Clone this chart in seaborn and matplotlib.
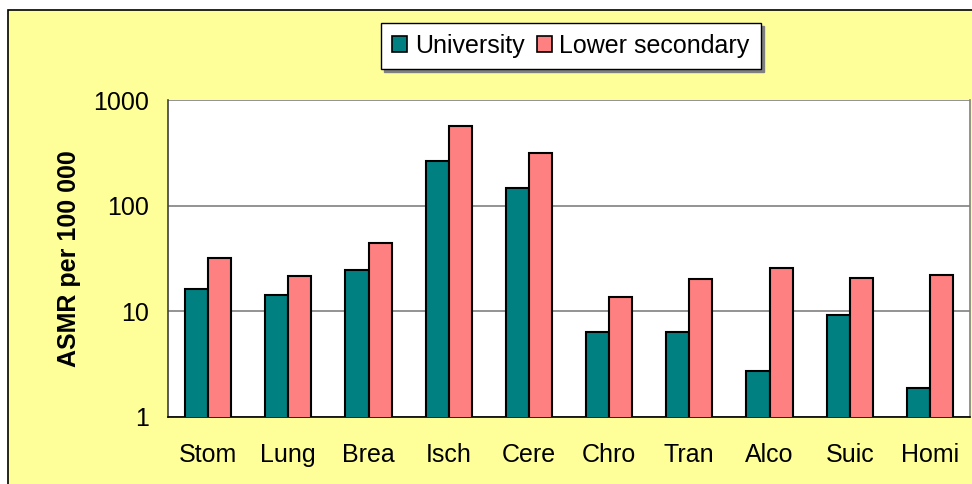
import pandas as pd
import matplotlib.pyplot as plt
import matplotlib.patches as mpatches
import seaborn as sns

causes = ['Stom', 'Lung', 'Brea', 'Isch', 'Cere', 'Chro', 'Tran', 'Alco', 'Suic', 'Homi']
university = [16.1, 14.3, 24.6, 264, 146, 6.4, 6.4, 2.74, 9.3, 1.88]
lower_secondary = [31.7, 21.7, 44.6, 570, 315, 13.7, 20.1, 25.7, 20.8, 21.9]
groups = ['University', 'Lower secondary']
colors = ['#008080', '#FF8080']
yticks = [1, 10, 100, 1000]


def plot_data():
  df = pd.DataFrame({
    'cause': causes * 2,
    'group': [groups[0]] * len(causes) + [groups[1]] * len(causes),
    'asmr': university + lower_secondary,
  })

  sns.set_style('white')
  plt.rcParams['font.family'] = ['Liberation Sans', 'DejaVu Sans']
  plt.rcParams['text.color'] = 'black'
  plt.rcParams['axes.labelcolor'] = 'black'
  plt.rcParams['xtick.labelcolor'] = 'black'
  plt.rcParams['ytick.labelcolor'] = 'black'

  fig = plt.figure(figsize=(9.72, 4.84), dpi=100)
  fig.patch.set_facecolor('white')
  # yellow chart area with black border (cut off at right/bottom)
  fig.patches.append(mpatches.Rectangle((8 / 972, -0.1), 1.2, 1.1 - 10 / 484,
                                        transform=fig.transFigure, facecolor='#FFFF99',
                                        edgecolor='black', linewidth=1.2, zorder=-10))

  ax = fig.add_axes([168 / 972, 1 - 417 / 484, (970 - 168) / 972, 317 / 484])
  ax.set_facecolor('white')
  sns.barplot(data=df, x='cause', y='asmr', hue='group', hue_order=groups,
              palette=colors, width=0.575, edgecolor='black', linewidth=1.5,
              saturation=1, ax=ax, legend=False, zorder=3)
  ax.set_yscale('log')
  ax.set_ylim(1, 1000)
  ax.set_xlim(-0.5, len(causes) - 0.5)
  ax.set_yticks(yticks)
  ax.set_yticklabels([str(t) for t in yticks])
  ax.minorticks_off()
  ax.yaxis.grid(True, color='#808080', linewidth=1.2, zorder=0)
  ax.set_axisbelow(True)

  # ticks at category boundaries, labels at centres
  ax.set_xticks([i - 0.5 for i in range(len(causes) + 1)], minor=False)
  ax.set_xticklabels([])
  ax.set_xticks(range(len(causes)), minor=True)
  ax.set_xticklabels(causes, minor=True)
  ax.tick_params(axis='x', which='major', direction='out', length=7, width=1.2, color='black')
  ax.tick_params(axis='x', which='minor', length=0, labelsize=18, pad=19, labelcolor='black')
  ax.tick_params(axis='y', direction='out', length=8, width=1.2, color='#404040',
                 labelsize=18, pad=6, labelcolor='black')

  ax.spines['left'].set_color('#404040')
  ax.spines['left'].set_linewidth(1.2)
  ax.spines['bottom'].set_color('black')
  ax.spines['bottom'].set_linewidth(1.2)
  ax.spines['top'].set_visible(False)
  ax.spines['right'].set_color('#808080')
  ax.spines['right'].set_linewidth(1.2)

  ax.set_xlabel('')
  ax.set_ylabel('ASMR per 100 000', fontsize=18, fontweight='bold', color='black')
  ax.yaxis.set_label_coords(-0.108, 0.5)

  handles = [mpatches.Patch(facecolor=c, edgecolor='black', linewidth=1.2, label=g)
             for c, g in zip(colors, groups)]
  leg = fig.legend(handles=handles, loc='center', bbox_to_anchor=(571 / 972, 1 - 46 / 484),
                   ncol=2, fontsize=18, frameon=True, fancybox=False,
                   shadow={'color': '#808080', 'alpha': 1.0},
                   handlelength=0.6, handleheight=0.6, handletextpad=0.3, columnspacing=0.5,
                   borderpad=0.45, framealpha=1.0)
  leg.get_frame().set_edgecolor('black')
  leg.get_frame().set_facecolor('white')
  leg.get_frame().set_linewidth(1.0)

  fig.savefig('out.png', dpi=100)


def main():
  plot_data()


if __name__ == '__main__':
  main()
